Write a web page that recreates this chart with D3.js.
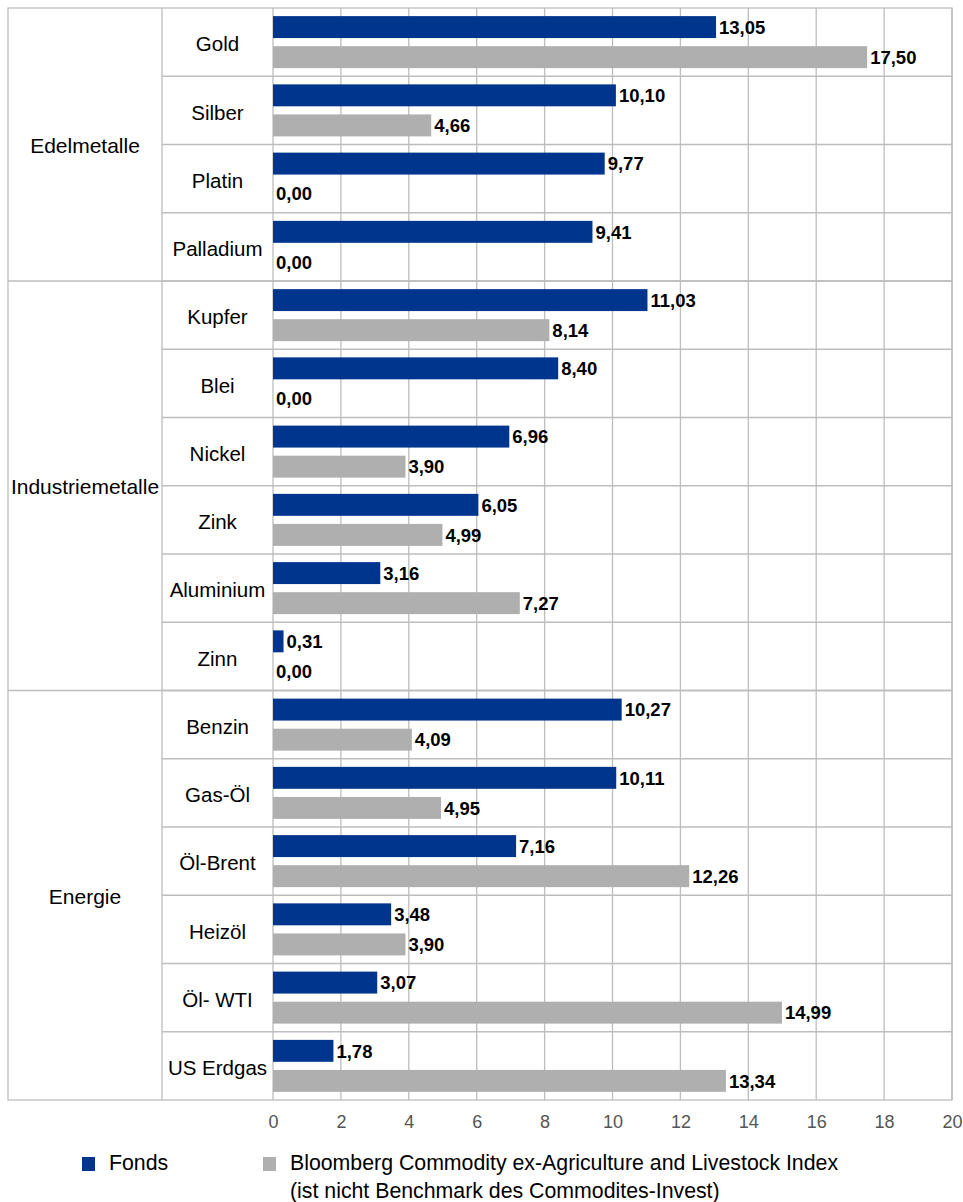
<!DOCTYPE html>
<html>
<head>
<meta charset="utf-8">
<script src="https://cdn.jsdelivr.net/npm/d3@7"></script>
<style>
  body { margin: 0; background: #fff; }
  svg { font-family: "Liberation Sans", Arial, sans-serif; }
</style>
</head>
<body>
<svg id="chart"></svg>
<script>
// groups and their members (in order)
const groups = ["Edelmetalle", "Industriemetalle", "Energie"];
const groupSizes = [4, 6, 6];
const categories = ["Gold", "Silber", "Platin", "Palladium",
    "Kupfer", "Blei", "Nickel", "Zink", "Aluminium", "Zinn",
    "Benzin", "Gas-Öl", "Öl-Brent", "Heizöl", "Öl- WTI", "US Erdgas"];
const fonds = [13.05, 10.10, 9.77, 9.41, 11.03, 8.40, 6.96, 6.05, 3.16, 0.31,
    10.27, 10.11, 7.16, 3.48, 3.07, 1.78];
const index = [17.50, 4.66, 0.00, 0.00, 8.14, 0.00, 3.90, 4.99, 7.27, 0.00,
    4.09, 4.95, 12.26, 3.90, 14.99, 13.34];
const ticks = [0, 2, 4, 6, 8, 10, 12, 14, 16, 18, 20];
const seriesNames = ["Fonds", "Bloomberg Commodity ex-Agriculture and Livestock Index"];

const width = 963, height = 1202;
const frameLeft = 8, catLeft = 162, plotLeft = 273, frameRight = 952;
const frameTop = 8, frameBottom = 1100;
const gridColor = "#bdbdbd";
const colors = {fonds: "#00358e", index: "#afafaf"};

const svg = d3.select("#chart").attr("width", width).attr("height", height);

const x = d3.scaleLinear().domain([0, 20]).range([plotLeft, frameRight]);
const y = d3.scaleBand().domain(categories).range([frameTop, frameBottom]);
const inner = d3.scaleBand().domain(["fonds", "index"])
    .range([0, y.bandwidth()]).paddingInner(0.27).paddingOuter(0.27);

const fmt = d3.formatLocale({decimal: ",", thousands: ".", grouping: [3], currency: ["", "€"]}).format(".2f");

const rows = categories.map((c, i) => ({cat: c, fonds: fonds[i], index: index[i]}));

// group extents
let start = 0;
const groupRows = groups.map((g, i) => {
    const first = categories[start], last = categories[start + groupSizes[i] - 1];
    start += groupSizes[i];
    return {name: g, y0: y(first), y1: y(last) + y.bandwidth()};
});

const grid = svg.append("g").attr("stroke", gridColor).attr("stroke-width", 1.3);

// vertical grid lines at ticks
grid.selectAll("line.v").data(ticks).join("line")
    .attr("x1", d => x(d)).attr("x2", d => x(d))
    .attr("y1", frameTop).attr("y2", frameBottom);

// row separators (category column + plot)
grid.selectAll("line.r").data(categories.slice(1)).join("line")
    .attr("x1", catLeft).attr("x2", frameRight)
    .attr("y1", d => y(d)).attr("y2", d => y(d));

// group separators span all columns
grid.selectAll("line.g").data(groupRows.slice(1)).join("line")
    .attr("x1", frameLeft).attr("x2", frameRight)
    .attr("y1", d => d.y0).attr("y2", d => d.y0);

// column separators and outer frame
grid.append("line").attr("x1", catLeft).attr("x2", catLeft).attr("y1", frameTop).attr("y2", frameBottom);
grid.append("rect").attr("x", frameLeft).attr("y", frameTop)
    .attr("width", frameRight - frameLeft).attr("height", frameBottom - frameTop).attr("fill", "none");

// bars
const rowG = svg.append("g").selectAll("g").data(rows).join("g")
    .attr("transform", d => `translate(0,${y(d.cat)})`);

["fonds", "index"].forEach(key => {
    rowG.append("rect")
        .attr("x", x(0))
        .attr("y", inner(key))
        .attr("height", inner.bandwidth())
        .attr("width", d => x(d[key]) - x(0))
        .attr("fill", colors[key]);
    rowG.append("text")
        .attr("x", d => x(d[key]) + 3)
        .attr("y", inner(key) + inner.bandwidth() / 2)
        .attr("dy", "0.36em")
        .attr("font-size", 18.5)
        .attr("font-weight", "bold")
        .attr("fill", "#000")
        .text(d => fmt(d[key]));
});

// category labels
svg.append("g").selectAll("text").data(categories).join("text")
    .attr("x", (catLeft + plotLeft) / 2)
    .attr("y", d => y(d) + y.bandwidth() / 2 + 2)
    .attr("dy", "0.35em")
    .attr("text-anchor", "middle")
    .attr("font-size", 20.5)
    .attr("fill", "#000")
    .text(d => d);

// group labels
svg.append("g").selectAll("text").data(groupRows).join("text")
    .attr("x", (frameLeft + catLeft) / 2)
    .attr("y", d => (d.y0 + d.y1) / 2 + 1)
    .attr("dy", "0.35em")
    .attr("text-anchor", "middle")
    .attr("font-size", 21)
    .attr("fill", "#000")
    .text(d => d.name);

// x axis
const axis = svg.append("g")
    .attr("transform", `translate(0,${frameBottom})`)
    .call(d3.axisBottom(x).tickValues(ticks).tickSize(0).tickPadding(15).tickFormat(d3.format("d")));
axis.select(".domain").remove();
axis.selectAll("text")
    .attr("font-size", 18)
    .attr("font-family", "\"Liberation Sans\", Arial, sans-serif")
    .attr("fill", "#555");

// legend
const legend = svg.append("g");
const legendItems = [
    {x: 82, color: colors.fonds, lines: [seriesNames[0]]},
    {x: 263, color: colors.index, lines: [seriesNames[1], "(ist nicht Benchmark des Commodites-Invest)"]}
];
legendItems.forEach(item => {
    legend.append("rect")
        .attr("x", item.x).attr("y", 1157)
        .attr("width", 13).attr("height", 14)
        .attr("fill", item.color);
    legend.append("text")
        .attr("x", item.x + 27).attr("y", 1163)
        .attr("font-size", 21.3)
        .attr("fill", "#000")
        .selectAll("tspan").data(item.lines).join("tspan")
        .attr("x", item.x + 27)
        .attr("dy", (d, i) => i === 0 ? "0.35em" : "1.27em")
        .text(d => d);
});
</script>
</body>
</html>
